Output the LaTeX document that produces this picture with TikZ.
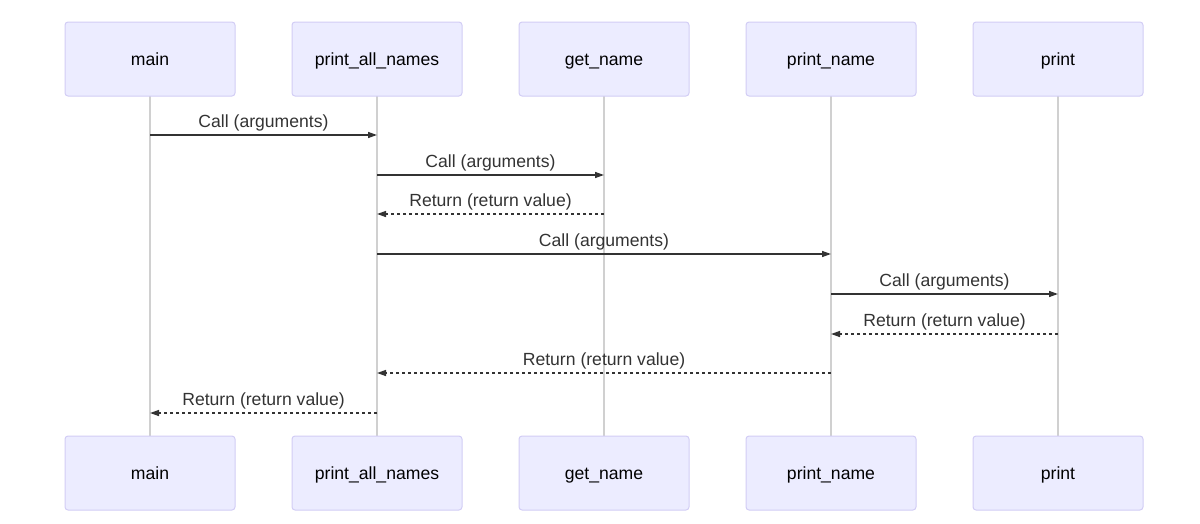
\documentclass[tikz,border=0pt]{standalone}
\usepackage{fontspec}
\setmainfont{Liberation Sans}
\usetikzlibrary{arrows.meta}
\definecolor{actfill}{HTML}{ECECFF}
\definecolor{actline}{HTML}{D2CDF5}
\definecolor{lifeln}{HTML}{D0D0D0}
\definecolor{msgcol}{HTML}{333333}
\begin{document}
\begin{tikzpicture}[x=1pt,y=-1pt,
  actor/.style={draw=actline,fill=actfill,line width=1pt,rounded corners=3pt,
    minimum width=170pt,minimum height=74pt,inner sep=0pt,
    font=\fontsize{17.6}{20}\selectfont,text=black,text height=12.6pt,text depth=0pt},
  life/.style={draw=lifeln,line width=1.3pt},
  call/.style={draw=msgcol,line width=1.4pt,-{Triangle[length=9pt,width=6pt]}},
  ret/.style={draw=msgcol,line width=1.4pt,dash pattern=on 3pt off 3pt,-{Triangle[length=9pt,width=6pt]}},
  lbl/.style={font=\fontsize{17.6}{20}\selectfont,text=msgcol,inner sep=0pt,above=2.8pt}]
\useasboundingbox (0,0) rectangle (1200,523);
% lifelines first (behind boxes)
\foreach \n/\x in {a/150,b/377,c/604,d/831,e/1058}{
  \coordinate (\n top) at (\x,96);
  \coordinate (\n bot) at (\x,436);
}
\draw[life] (atop) -- (abot);
\draw[life] (btop) -- (bbot);
\draw[life] (ctop) -- (cbot);
\draw[life] (dtop) -- (dbot);
\draw[life] (etop) -- (ebot);
% top actors
\node[actor] (main) at (150,59) {main};
\node[actor] (pan) at (377,59) {print\_all\_names};
\node[actor] (gn) at (604,59) {get\_name};
\node[actor] (pn) at (831,59) {print\_name};
\node[actor] (pr) at (1058,59) {print};
% bottom actors
\node[actor] (main2) at (150,473) {main};
\node[actor] (pan2) at (377,473) {print\_all\_names};
\node[actor] (gn2) at (604,473) {get\_name};
\node[actor] (pn2) at (831,473) {print\_name};
\node[actor] (pr2) at (1058,473) {print};
% message rows
\coordinate (y1) at (0,135);
\coordinate (y2) at (0,175);
\coordinate (y3) at (0,214);
\coordinate (y4) at (0,254);
\coordinate (y5) at (0,294);
\coordinate (y6) at (0,334);
\coordinate (y7) at (0,373);
\coordinate (y8) at (0,413);
\draw[call] (main |- y1) -- node[lbl] (l1) {Call (arguments)} (pan |- y1);
\draw[call] (pan |- y2) -- node[lbl] (l2) {Call (arguments)} (gn |- y2);
\draw[ret] (gn |- y3) -- node[lbl] (l3) {Return (return value)} (pan |- y3);
\draw[call] (pan |- y4) -- node[lbl] (l4) {Call (arguments)} (pn |- y4);
\draw[call] (pn |- y5) -- node[lbl] (l5) {Call (arguments)} (pr |- y5);
\draw[ret] (pr |- y6) -- node[lbl] (l6) {Return (return value)} (pn |- y6);
\draw[ret] (pn |- y7) -- node[lbl] (l7) {Return (return value)} (pan |- y7);
\draw[ret] (pan |- y8) -- node[lbl] (l8) {Return (return value)} (main |- y8);
\end{tikzpicture}
\end{document}
